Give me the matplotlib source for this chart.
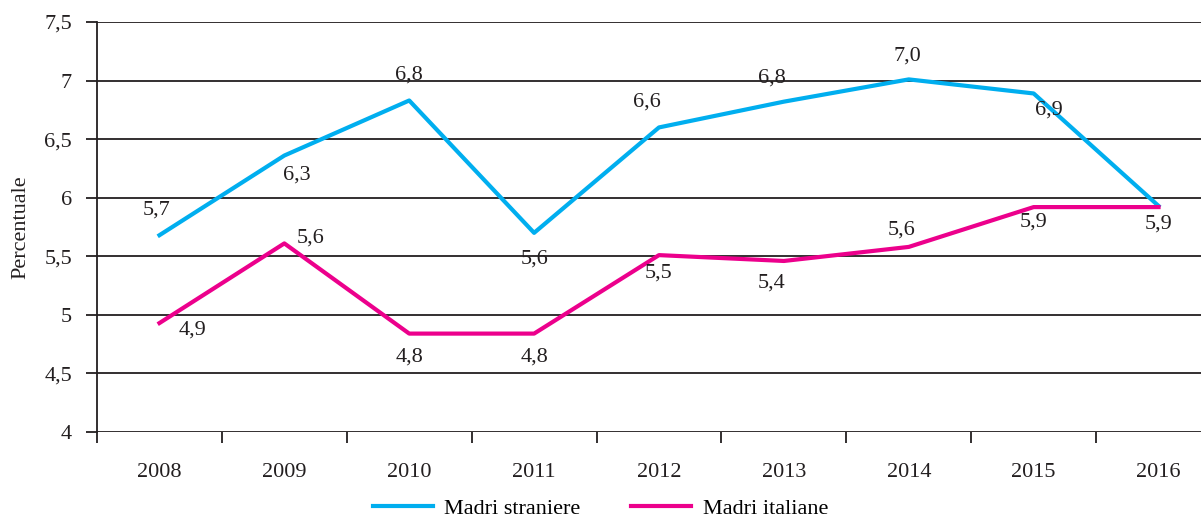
"""
line chart: percentuale per anno, madri straniere vs madri italiane
"""

import matplotlib.pyplot as plt

years = ["2008", "2009", "2010", "2011", "2012", "2013", "2014", "2015", "2016"]
straniere = [5.68, 6.36, 6.83, 5.70, 6.60, 6.82, 7.01, 6.89, 5.93]
italiane = [4.93, 5.61, 4.84, 4.84, 5.51, 5.46, 5.58, 5.92, 5.92]
straniere_lab = ["5,7", "6,3", "6,8", "5,6", "6,6", "6,8", "7,0", "6,9", "5,9"]
italiane_lab = ["4,9", "5,6", "4,8", "4,8", "5,5", "5,4", "5,6", "5,9", "5,9"]
yticks = [4, 4.5, 5, 5.5, 6, 6.5, 7, 7.5]
ytick_lab = ["4", "4,5", "5", "5,5", "6", "6,5", "7", "7,5"]

# label offsets in points (dx, dy)
straniere_off = [(-2, 18), (9, -14), (0, 18), (0, -19), (-9, 18), (-9, 17), (-1, 17), (11, -12), (0, -13)]
italiane_off = [(24, -5), (19, 4), (0, -17), (0, -17), (0, -13), (-9, -16), (-5, 12), (0, -11), (0, -13)]

BLUE = "#00aeef"
PINK = "#ec008c"
INK = "#231f20"

plt.rcParams["font.family"] = ["Liberation Serif", "DejaVu Serif"]
plt.rcParams["font.size"] = 16

fig = plt.figure(figsize=(12.01, 5.22), dpi=100)
ax = fig.add_axes([97 / 1201, 1 - 432 / 522, 1 - 97 / 1201, (432 - 22) / 522])

x = list(range(len(years)))
ax.plot(x, straniere, color=BLUE, lw=3, label="Madri straniere", zorder=3)
ax.plot(x, italiane, color=PINK, lw=3, label="Madri italiane", zorder=3)

for i in x:
    ax.annotate(straniere_lab[i], (i, straniere[i]), xytext=straniere_off[i],
                textcoords="offset points", ha="center", va="center", color=INK)
    # the two series share one label at 2016
    if i == len(x) - 1 and italiane_lab[i] == straniere_lab[i]:
        continue
    ax.annotate(italiane_lab[i], (i, italiane[i]), xytext=italiane_off[i],
                textcoords="offset points", ha="center", va="center", color=INK)

ax.set_xlim(-0.5, 8.34)
ax.set_ylim(4, 7.5)
ax.set_yticks(yticks)
ax.set_yticklabels(ytick_lab)
ax.set_xticks(x)
ax.set_xticklabels(years)
ax.set_xticks([i - 0.5 for i in x], minor=True)
ax.tick_params(axis="x", which="major", length=0, pad=22)
ax.tick_params(axis="x", which="minor", length=8, width=1.3, direction="out", color=INK)
ax.tick_params(axis="y", length=8, width=1.3, pad=10, color=INK)
for tl in ax.get_xticklabels() + ax.get_yticklabels():
    tl.set_color(INK)

ax.grid(axis="y", color=INK, lw=1.3)
ax.set_axisbelow(True)
for s in ["top", "right", "bottom"]:
    ax.spines[s].set_visible(False)
ax.spines["left"].set_linewidth(1.3)
ax.spines["left"].set_color(INK)

ax.set_ylabel("Percentuale", color=INK)
ax.yaxis.set_label_coords(-0.06, 0.5)

fig.legend(loc="lower center", bbox_to_anchor=(0.5, -0.032), ncol=2, frameon=False,
           handlelength=2.7, handletextpad=0.5, columnspacing=2.3)

fig.savefig("out.png", dpi=100)
